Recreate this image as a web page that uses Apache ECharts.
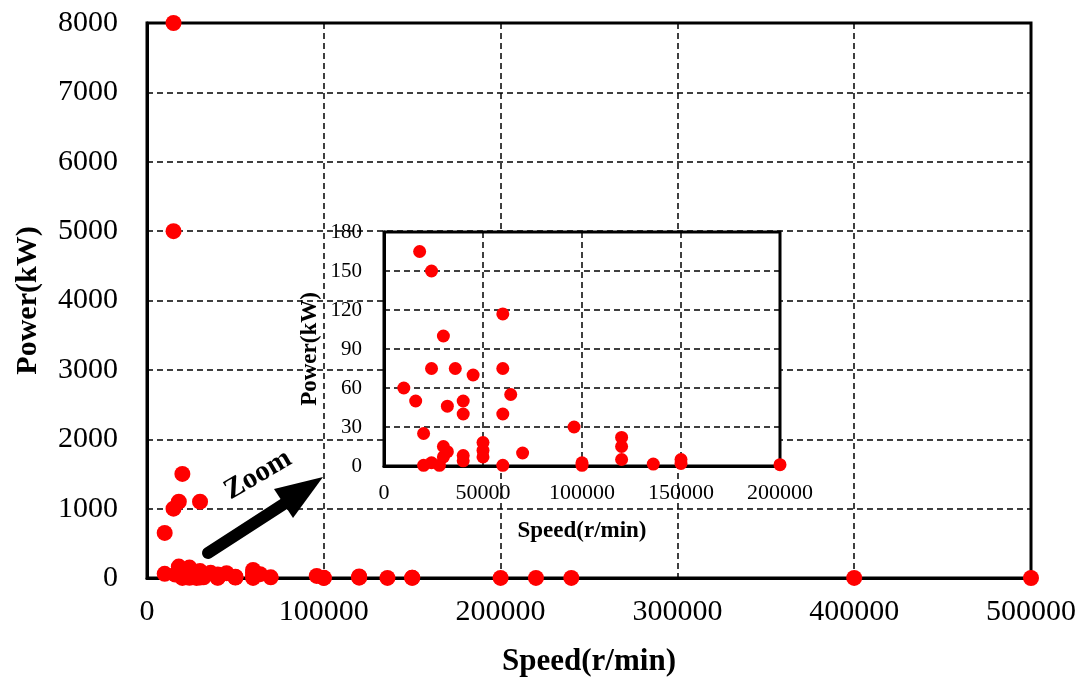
<!DOCTYPE html>
<html>
<head>
<meta charset="utf-8">
<script src="https://cdn.jsdelivr.net/npm/echarts@6/dist/echarts.min.js"></script>
<style>
  html, body { margin: 0; padding: 0; background: #fff; }
  #chart-container { width: 1088px; height: 688px; }
</style>
</head>
<body>
<div id="chart-container"></div>
<script>
var dom = document.getElementById("chart-container");
var myChart = echarts.init(dom, null, { renderer: "canvas" });

// speed (r/min) and power (kW) of each machine
const speed = [
  15000, 15000, 20000, 18000, 15000, 30000, 10000,
  18000, 24000, 60000, 30000, 24000, 36000, 45000, 60000, 10000, 64000,
  16000, 40000, 32000, 40000, 60000, 96000, 20000, 120000, 120000, 50000,
  30000, 32000, 50000, 50000, 30000, 40000, 40000, 70000, 120000, 20000,
  24000, 28000, 60000, 100000, 100000, 136000, 150000, 150000, 200000,
  220000, 240000, 400000, 500000
];
const power = [
  8000, 5000, 1500, 1100, 1000, 1100, 650,
  165, 150, 117, 100, 75, 75, 70, 75, 60, 55,
  50, 50, 46, 40, 40, 30, 25, 22, 15, 18,
  15, 11, 12, 7, 7, 8, 4, 10, 5, 0.5,
  2.5, 0.5, 0.5, 2.5, 0.5, 1.5, 5, 2, 1,
  1, 1, 0.5, 0.2
];

const mainXTicks = [0, 500000, 100000];
const mainYTicks = [0, 8000, 1000];
const zoomXTicks = [0, 200000, 50000];
const zoomYTicks = [0, 180, 30];

var allPts = speed.map(function (s, i) { return [s, power[i]]; });
var zoomPts = allPts.filter(function (p) {
  return p[0] <= zoomXTicks[1] && p[1] <= zoomYTicks[1];
});

var font = "'Liberation Serif', 'Times New Roman', serif";
var dashed = { show: true, lineStyle: { color: "#000", type: [6, 4], width: 1.5 } };

function axisBase(range, fs, margin) {
  return {
    type: "value",
    min: range[0],
    max: range[1],
    interval: range[2],
    axisLine: { show: true, lineStyle: { color: "#000", width: 3 } },
    axisTick: { show: false },
    splitLine: dashed,
    axisLabel: {
      color: "#000", fontFamily: font, fontSize: fs, margin: margin,
      formatter: function (v) { return String(v); },
    },
  };
}

var option = {
  animation: false,
  backgroundColor: "#fff",
  grid: [
    { left: 147, top: 23, width: 884, height: 555, show: true,
      borderColor: "#000", borderWidth: 3, z: 0 },
    { left: 384, top: 232, width: 396, height: 234, show: true,
      backgroundColor: "#fff", borderColor: "#000", borderWidth: 3, z: 5 },
  ],
  xAxis: [
    Object.assign(axisBase(mainXTicks, 30, 19), {
      gridIndex: 0,
      name: "Speed(r/min)", nameLocation: "middle", nameGap: 68,
      nameTextStyle: { color: "#000", fontFamily: font, fontSize: 31, fontWeight: "bold" },
    }),
    Object.assign(axisBase(zoomXTicks, 22, 16), {
      gridIndex: 1, z: 5,
      name: "Speed(r/min)", nameLocation: "middle", nameGap: 54,
      nameTextStyle: { color: "#000", fontFamily: font, fontSize: 23, fontWeight: "bold" },
    }),
  ],
  yAxis: [
    Object.assign(axisBase(mainYTicks, 30, 29), {
      gridIndex: 0,
      name: "Power(kW)", nameLocation: "middle", nameGap: 104,
      nameTextStyle: { color: "#000", fontFamily: font, fontSize: 30, fontWeight: "bold" },
    }),
    Object.assign(axisBase(zoomYTicks, 21, 22), {
      gridIndex: 1, z: 5,
      name: "Power(kW)", nameLocation: "middle", nameGap: 62,
      nameTextStyle: { color: "#000", fontFamily: font, fontSize: 23, fontWeight: "bold" },
    }),
  ],
  series: [
    {
      type: "scatter", xAxisIndex: 0, yAxisIndex: 0, z: 2,
      symbolSize: 16, itemStyle: { color: "#ff0000", opacity: 1 },
      data: allPts,
    },
    {
      type: "scatter", xAxisIndex: 1, yAxisIndex: 1, z: 6,
      symbolSize: 13, itemStyle: { color: "#ff0000", opacity: 1 },
      data: zoomPts,
    },
  ],
  graphic: [
    { type: "polyline", z: 10,
      shape: { points: [[208, 553], [290, 500]] },
      style: { stroke: "#000", lineWidth: 12, lineCap: "round" } },
    { type: "polygon", z: 10,
      shape: { points: [[323, 477], [274, 489], [293, 518]] },
      style: { fill: "#000" } },
    { type: "text", z: 10, x: 258, y: 475, rotation: 0.53,
      style: { text: "Zoom", fill: "#000", font: "bold 29px " + font,
        align: "center", verticalAlign: "middle" } },
  ],
};

myChart.setOption(option);
window.addEventListener("resize", myChart.resize);
</script>
</body>
</html>
